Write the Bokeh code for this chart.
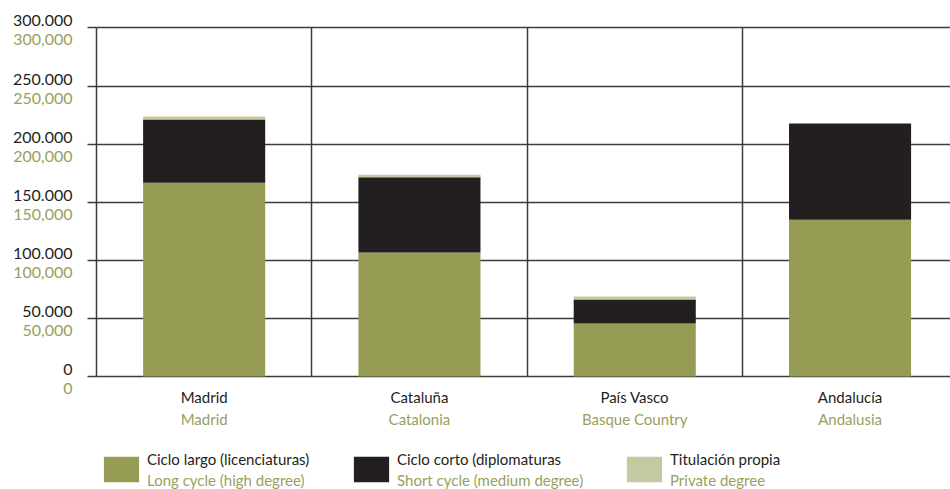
from bokeh.plotting import figure
from bokeh.models import (Range1d, LinearAxis, FixedTicker, Grid, Legend, LegendItem,
                          ColumnDataSource)
from bokeh.embed import file_html
from bokeh.resources import INLINE

# ---------------- data ----------------
regions_es = ["Madrid", "Cataluña", "País Vasco", "Andalucía"]
regions_en = ["Madrid", "Catalonia", "Basque Country", "Andalusia"]
long_cycle = [166700, 106700, 45600, 134900]
short_cycle = [54500, 64800, 20700, 82800]
private_degree = [2600, 2100, 2550, 0]
series_keys = ["long", "short", "private"]
series_es = ["Ciclo largo (licenciaturas)", "Ciclo corto (diplomaturas", "Titulación propia"]
series_en = ["Long cycle (high degree)", "Short cycle (medium degree)", "Private degree"]
y_ticks = [0, 50000, 100000, 150000, 200000, 250000, 300000]
y_labels_es = ["0", "50.000", "100.000", "150.000", "200.000", "250.000", "300.000"]
y_labels_en = ["0", "50,000", "100,000", "150,000", "200,000", "250,000", "300,000"]

# ---------------- style / layout ----------------
colors = ["#979c54", "#231f20", "#c5c9a0"]
TXT_BLACK = "#231f20"
TXT_GREEN = "#9aa05c"
LINE = "#3c3c3c"
FONT = "Lato"
W, H = 950, 489
X0_PX, Y0_PX = 96, 376          # pixel position of the data origin
PX_PER_CAT = 215.3              # pixels per category
UNITS_PER_PX = 860.8            # data units per pixel (vertical)

x_start = -X0_PX / PX_PER_CAT
x_end = (W - X0_PX) / PX_PER_CAT
y_start = -(H - Y0_PX) * UNITS_PER_PX
y_end = Y0_PX * UNITS_PER_PX

x_pos = [i + 0.5 for i in range(len(regions_es))]
source = ColumnDataSource(dict(x=x_pos, long=long_cycle, short=short_cycle,
                               private=private_degree))

p = figure(width=W, height=H, x_range=Range1d(x_start, x_end),
           y_range=Range1d(y_start, y_end), output_backend="svg",
           toolbar_location=None, x_axis_type=None, y_axis_type=None,
           min_border_left=0, min_border_right=0, min_border_top=0,
           min_border_bottom=0)
p.outline_line_color = None
p.background_fill_color = "white"
p.border_fill_color = "white"

# grids
p.add_layout(Grid(dimension=0, ticker=FixedTicker(ticks=[1, 2, 3]),
                  cross_bounds=(0, max(y_ticks)),
                  grid_line_color=LINE, grid_line_width=1.5))
p.add_layout(Grid(dimension=1, ticker=FixedTicker(ticks=y_ticks),
                  cross_bounds=(0, x_end + 1),
                  grid_line_color=LINE, grid_line_width=1.5))

# bars
renderers = p.vbar_stack(series_keys, x="x", width=0.567, color=colors,
                         line_color=None, source=source)

# invisible renderer used only to carry the legend text lines
text_carrier = p.vbar(x=[], top=[], width=0.5, fill_alpha=0, line_alpha=0)

# main y axis (line + outward ticks)
main_ax = LinearAxis(ticker=FixedTicker(ticks=y_ticks), fixed_location=0,
                     bounds=(0, max(y_ticks)), major_tick_out=9, major_tick_in=0,
                     minor_tick_out=0, minor_tick_in=0,
                     axis_line_color=LINE, axis_line_width=1.5,
                     major_tick_line_color=LINE, major_tick_line_width=1.5,
                     major_label_text_color=None)
p.add_layout(main_ax, "left")

# label axes (shifted ranges so labels sit above / below each grid line)
d_es = -7.0 * UNITS_PER_PX
d_en = 12.0 * UNITS_PER_PX
p.extra_y_ranges = {
    "es": Range1d(y_start + d_es, y_end + d_es),
    "en": Range1d(y_start + d_en, y_end + d_en),
}
for name, labels, col in (("es", y_labels_es, TXT_BLACK), ("en", y_labels_en, TXT_GREEN)):
    ax = LinearAxis(y_range_name=name, ticker=FixedTicker(ticks=y_ticks), fixed_location=0,
                    major_label_overrides={t: l for t, l in zip(y_ticks, labels)},
                    major_tick_out=0, major_tick_in=0, minor_tick_out=0, minor_tick_in=0,
                    axis_line_color=None, major_tick_line_color=None,
                    major_label_standoff=24, major_label_text_font=FONT,
                    major_label_text_font_size="16px", major_label_text_color=col)
    p.add_layout(ax, "left")

# x (category) axes
for labels, col, standoff in ((regions_es, TXT_BLACK, 11), (regions_en, TXT_GREEN, 33)):
    ax = LinearAxis(ticker=FixedTicker(ticks=x_pos), fixed_location=0,
                    major_label_overrides={x: l for x, l in zip(x_pos, labels)},
                    major_tick_out=0, major_tick_in=0, minor_tick_out=0, minor_tick_in=0,
                    axis_line_color=None, major_tick_line_color=None,
                    major_label_standoff=standoff, major_label_text_font=FONT,
                    major_label_text_font_size="15px", major_label_text_color=col)
    p.add_layout(ax, "below")

# legends: swatch, black Spanish line above, green English line below
leg_x = [99, 349, 622]
common = dict(orientation="horizontal", padding=0, margin=0, spacing=0,
              border_line_color=None, background_fill_alpha=0,
              label_text_font=FONT, label_text_font_size="15px",
              glyph_width=44, label_standoff=4)
for i, r in enumerate(renderers):
    p.add_layout(Legend(items=[LegendItem(label="", renderers=[r])],
                        location=(leg_x[i], 4), glyph_height=32, **common))
    p.add_layout(Legend(items=[LegendItem(label=series_es[i], renderers=[text_carrier])],
                        location=(leg_x[i], 21), glyph_height=1, label_height=16,
                        label_text_color=TXT_BLACK, **common))
    p.add_layout(Legend(items=[LegendItem(label=series_en[i], renderers=[text_carrier])],
                        location=(leg_x[i], 0), glyph_height=1, label_height=16,
                        label_text_color=TXT_GREEN, **common))

open("out.html", "w").write(file_html(p, INLINE))
